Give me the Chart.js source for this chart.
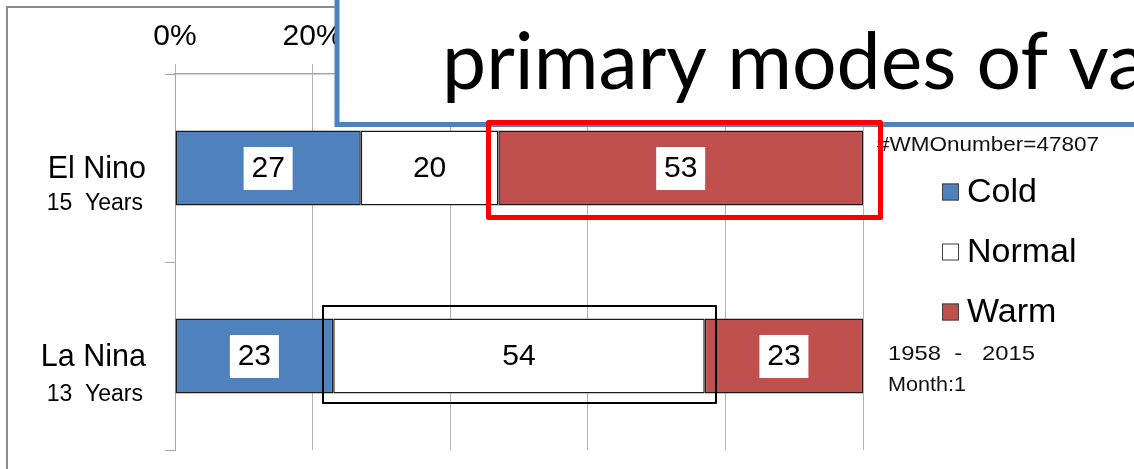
<!DOCTYPE html>
<html>
<head>
<meta charset="utf-8">
<script src="https://cdn.jsdelivr.net/npm/chart.js@4.4.0/dist/chart.umd.min.js"></script>
<style>
    html, body { margin: 0; padding: 0; background: #fff; }
    canvas { display: block; }
</style>
</head>
<body>
<canvas id="phaseChart" width="1134" height="469"></canvas>
<script>
const categories = ['El Nino', 'La Nina'];
const yearCounts = [15, 13];
const seriesNames = ['Cold', 'Normal', 'Warm'];
const coldPct = [27, 23];
const normalPct = [20, 54];
const warmPct = [53, 23];
const seriesColors = ['#4F81BD', '#FFFFFF', '#C0504D'];
const stationText = '#WMOnumber=47807';
const periodText = '1958  -   2015';
const monthText = 'Month:1';
const titleText = 'primary modes of variability';

const ARIAL = '"Liberation Sans", Arial, sans-serif';

// squeeze / stretch text so it spans a given width
function fitText(ctx, text, x, y, width, refText) {
    const w = ctx.measureText(refText || text).width;
    ctx.save();
    ctx.translate(x, y);
    ctx.scale(width / w, 1);
    ctx.fillText(text, 0, 0);
    ctx.restore();
}

const barLabels = {
    id: 'barLabels',
    afterDatasetsDraw(chart) {
        const ctx = chart.ctx;
        ctx.save();
        ctx.font = '30px ' + ARIAL;
        ctx.textAlign = 'center';
        ctx.textBaseline = 'middle';
        chart.data.datasets.forEach((ds, di) => {
            const meta = chart.getDatasetMeta(di);
            meta.data.forEach((bar, i) => {
                const p = bar.getProps(['x', 'y', 'base'], true);
                const cx = (p.x + p.base) / 2;
                ctx.fillStyle = '#fff';
                ctx.fillRect(cx - 24.5, p.y - 21, 49, 43);
                ctx.fillStyle = '#000';
                ctx.fillText(String(ds.data[i]), cx, p.y + 1);
            });
        });
        ctx.restore();
    }
};

const overlay = {
    id: 'overlay',
    afterDraw(chart) {
        const ctx = chart.ctx;
        const yScale = chart.scales.y;
        ctx.save();

        // frame of the pasted chart
        ctx.strokeStyle = '#8c8c8c';
        ctx.lineWidth = 2;
        ctx.beginPath();
        ctx.moveTo(7, 469);
        ctx.lineTo(7, 7);
        ctx.lineTo(1134, 7);
        ctx.stroke();

        // category labels with year counts
        ctx.fillStyle = '#000';
        ctx.textAlign = 'right';
        ctx.textBaseline = 'alphabetic';
        categories.forEach((name, i) => {
            const cy = yScale.getPixelForValue(i);
            ctx.font = '30.5px ' + ARIAL;
            ctx.fillText(name, 146, cy + 10);
            ctx.font = '23px ' + ARIAL;
            ctx.fillText(yearCounts[i] + '  Years', 143, cy + 42 + i * 3);
        });

        // legend
        ctx.textAlign = 'left';
        ctx.textBaseline = 'middle';
        ctx.font = '34px ' + ARIAL;
        chart.data.datasets.forEach((ds, i) => {
            const cy = 192 + i * 60;
            ctx.fillStyle = ds.backgroundColor;
            ctx.fillRect(942, cy - 8.5, 17, 17);
            ctx.strokeStyle = '#404040';
            ctx.lineWidth = 1;
            ctx.strokeRect(942.5, cy - 8, 16, 16);
            ctx.fillStyle = '#000';
            ctx.fillText(ds.label, 967, cy + 1);
        });

        // station / period notes
        ctx.textBaseline = 'alphabetic';
        ctx.font = '21px ' + ARIAL;
        ctx.fillStyle = '#111';
        fitText(ctx, stationText, 877, 151, 222);
        fitText(ctx, periodText, 888, 360, 147);
        fitText(ctx, monthText, 888, 391, 78);

        // slide text box laid over the chart
        ctx.fillStyle = '#fff';
        ctx.fillRect(336, -10, 820, 134);
        ctx.strokeStyle = '#4F81BD';
        ctx.lineWidth = 5;
        ctx.strokeRect(337, -10, 820, 134.5);
        ctx.fillStyle = '#000';
        ctx.font = '80px Lato, "Open Sans", sans-serif';
        fitText(ctx, titleText, 442, 89, 606, 'primary modes of');

        // highlight boxes
        ctx.lineJoin = 'round';
        ctx.strokeStyle = '#FF0000';
        ctx.lineWidth = 5;
        ctx.strokeRect(488.5, 122.5, 392, 95);
        ctx.strokeStyle = '#000';
        ctx.lineWidth = 2;
        ctx.strokeRect(323, 306, 393, 97);

        ctx.restore();
    }
};

const datasets = [coldPct, normalPct, warmPct].map((vals, i) => ({
    label: seriesNames[i],
    data: vals,
    backgroundColor: seriesColors[i],
    borderColor: '#1a1a1a',
    borderWidth: 1.5,
    borderSkipped: false,
    barPercentage: 0.4,
    categoryPercentage: 1
}));

new Chart(document.getElementById('phaseChart'), {
    type: 'bar',
    data: {
        labels: categories,
        datasets: datasets
    },
    options: {
        indexAxis: 'y',
        responsive: false,
        animation: false,
        devicePixelRatio: 1,
        layout: {
            padding: { left: 0, top: 0, right: 271, bottom: 19 }
        },
        plugins: {
            legend: { display: false },
            tooltip: { enabled: false }
        },
        scales: {
            x: {
                position: 'top',
                stacked: true,
                min: 0,
                max: 100,
                ticks: {
                    stepSize: 20,
                    padding: 9,
                    color: '#000',
                    font: { family: ARIAL, size: 30 },
                    callback: v => v + '%'
                },
                grid: {
                    color: '#b4b4b4',
                    tickLength: 10,
                    lineWidth: 1
                },
                border: { color: '#a6a6a6', width: 1.5 },
                afterFit: scale => { scale.height = 74; }
            },
            y: {
                stacked: true,
                ticks: { display: false },
                grid: {
                    offset: true,
                    drawOnChartArea: false,
                    drawTicks: true,
                    tickLength: 10,
                    color: '#a6a6a6'
                },
                border: { color: '#a6a6a6', width: 1 },
                afterFit: scale => { scale.width = 175; }
            }
        }
    },
    plugins: [barLabels, overlay]
});
</script>
</body>
</html>
